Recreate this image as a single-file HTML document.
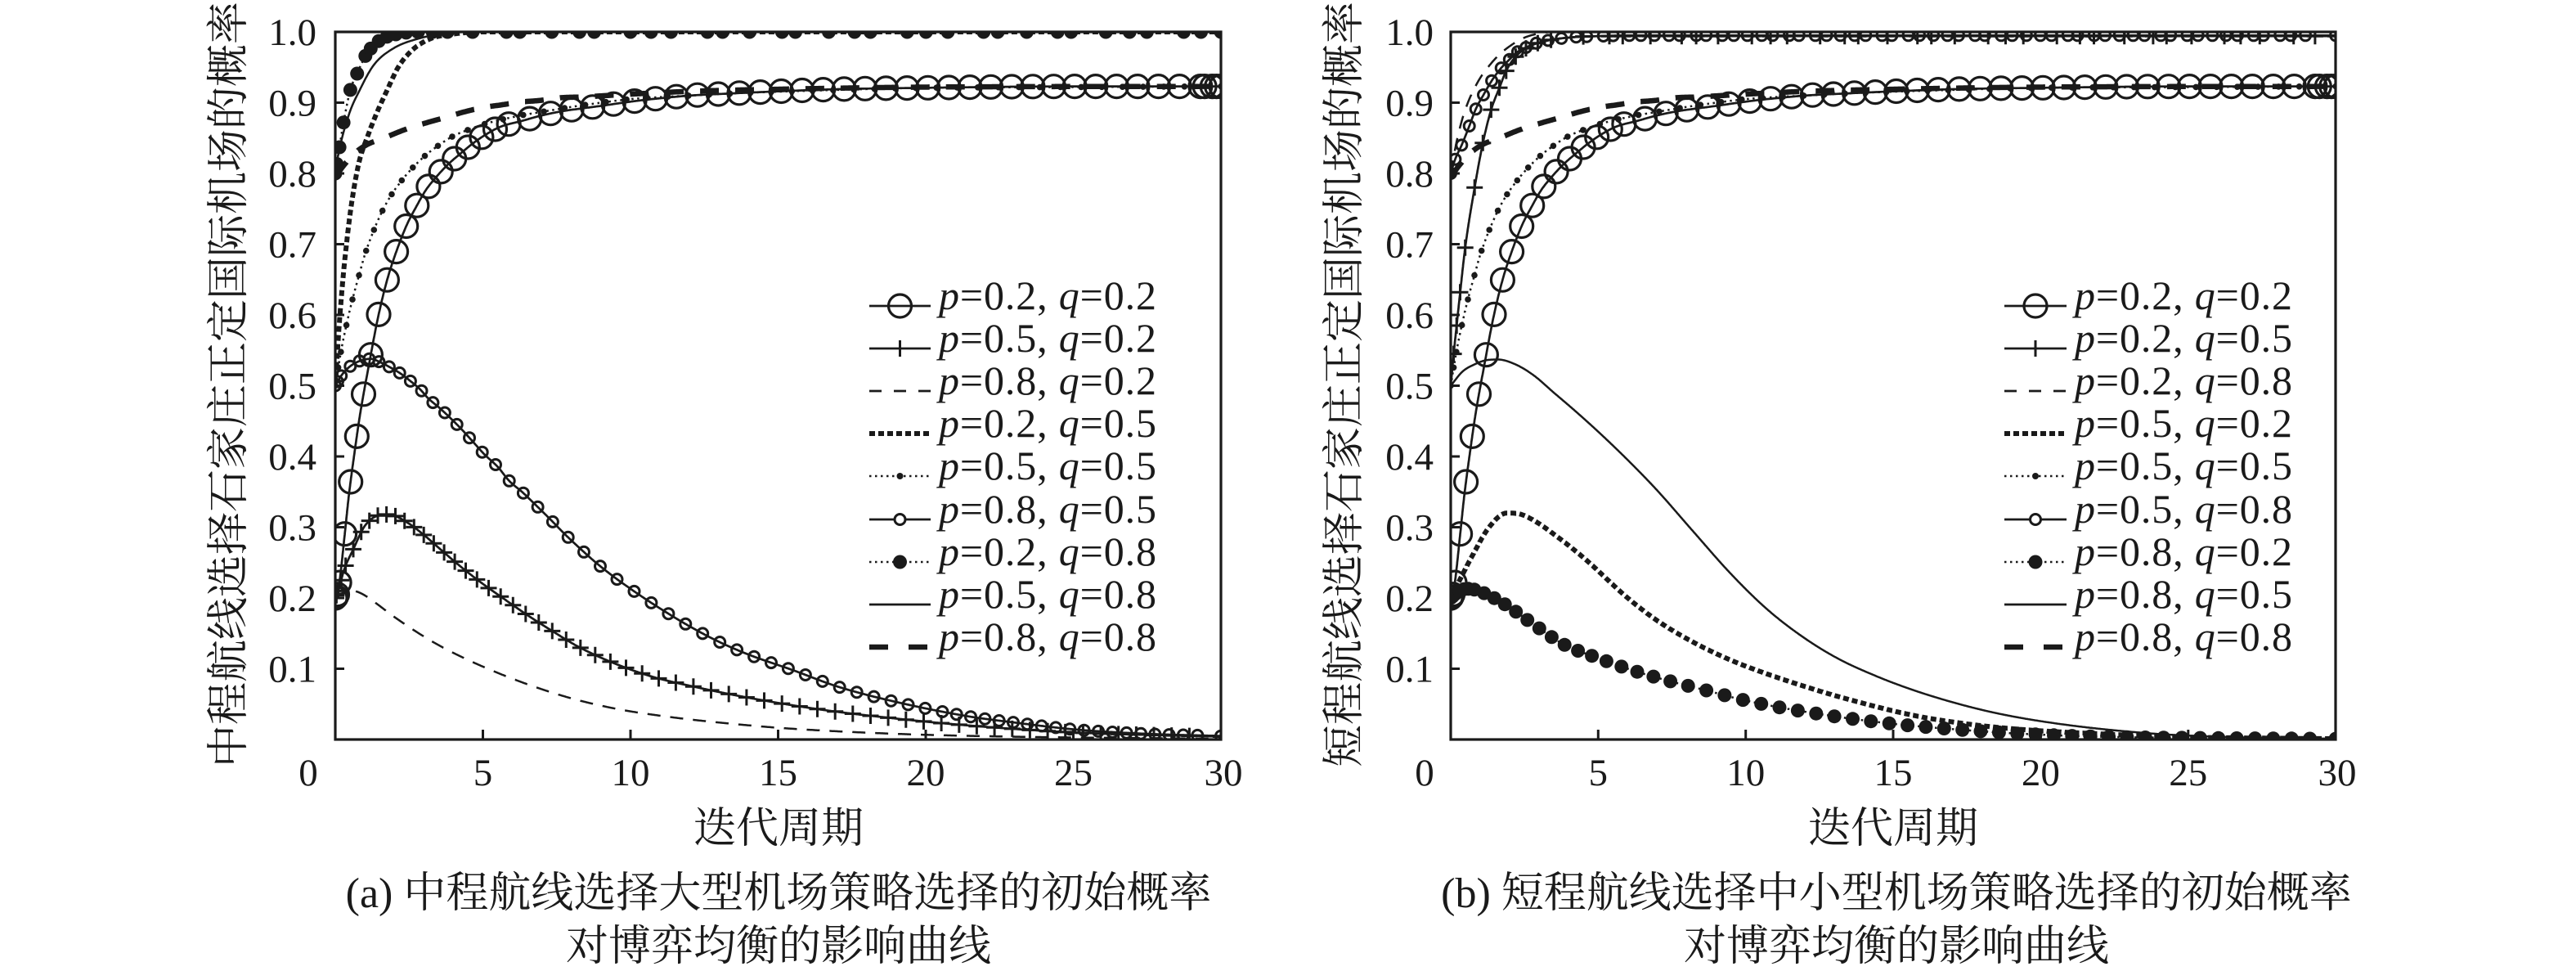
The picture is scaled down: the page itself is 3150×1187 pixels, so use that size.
<!DOCTYPE html>
<html><head><meta charset="utf-8">
<style>
html,body{margin:0;padding:0;background:#fff;}
svg{display:block;}
text{font-family:"Liberation Serif","Noto Serif CJK SC",serif;fill:#1a1a1a;}
</style></head>
<body>
<svg id="c" xmlns="http://www.w3.org/2000/svg" width="3150" height="1187" viewBox="0 0 3150 1187" font-family="'Liberation Serif','Noto Serif CJK SC',serif">
<rect width="3150" height="1187" fill="#fff"/>
<defs>
<clipPath id="clipA"><rect x="410" y="39" width="1083" height="865"/></clipPath>
<clipPath id="clipB"><rect x="1774" y="39" width="1082" height="865"/></clipPath>
</defs>
<g id="gA" clip-path="url(#clipA)"></g>
<g id="gB" clip-path="url(#clipB)"></g>

<!-- Axes -->
<g stroke="#1a1a1a" stroke-width="3" fill="none">
<rect x="410" y="39" width="1083" height="865" stroke-width="3.2"/>
<path d="M410 125.5h11M410 212h11M410 298.5h11M410 385h11M410 471.5h11M410 558h11M410 644.5h11M410 731h11M410 817.5h11"/>
<path d="M590.5 904v-12M771 904v-12M951.5 904v-12M1132 904v-12M1312.5 904v-12"/>
<rect x="1774" y="39" width="1082" height="865" stroke-width="3.2"/>
<path d="M1774 125.5h11M1774 212h11M1774 298.5h11M1774 385h11M1774 471.5h11M1774 558h11M1774 644.5h11M1774 731h11M1774 817.5h11"/>
<path d="M1954.3 904v-12M2134.7 904v-12M2315 904v-12M2495.4 904v-12M2675.8 904v-12"/>
</g>

<!-- Y tick labels -->
<g font-size="47" text-anchor="end">
<text x="387" y="55">1.0</text><text x="387" y="141.5">0.9</text><text x="387" y="228">0.8</text>
<text x="387" y="314.5">0.7</text><text x="387" y="401">0.6</text><text x="387" y="487.5">0.5</text>
<text x="387" y="574">0.4</text><text x="387" y="660.5">0.3</text><text x="387" y="747">0.2</text>
<text x="387" y="833.5">0.1</text>
<text x="1753" y="55">1.0</text><text x="1753" y="141.5">0.9</text><text x="1753" y="228">0.8</text>
<text x="1753" y="314.5">0.7</text><text x="1753" y="401">0.6</text><text x="1753" y="487.5">0.5</text>
<text x="1753" y="574">0.4</text><text x="1753" y="660.5">0.3</text><text x="1753" y="747">0.2</text>
<text x="1753" y="833.5">0.1</text>
</g>
<!-- X tick labels -->
<g font-size="47" text-anchor="middle">
<text x="377" y="960">0</text><text x="590.5" y="960">5</text><text x="771" y="960">10</text>
<text x="951.5" y="960">15</text><text x="1132" y="960">20</text><text x="1312.5" y="960">25</text>
<text x="1496" y="960">30</text>
<text x="1742" y="960">0</text><text x="1954.3" y="960">5</text><text x="2134.7" y="960">10</text>
<text x="2315" y="960">15</text><text x="2495.4" y="960">20</text><text x="2675.8" y="960">25</text>
<text x="2858" y="960">30</text>
</g>

<!-- Axis titles -->
<text font-size="52" text-anchor="middle" transform="translate(297,470) rotate(-90)">中程航线选择石家庄正定国际机场的概率</text>
<text font-size="52" text-anchor="middle" transform="translate(1661,470) rotate(-90)">短程航线选择石家庄正定国际机场的概率</text>
<text x="952" y="1030" font-size="52" text-anchor="middle">迭代周期</text>
<text x="2315" y="1030" font-size="52" text-anchor="middle">迭代周期</text>

<!-- Captions -->
<text x="952" y="1109" font-size="52" text-anchor="middle">(a) 中程航线选择大型机场策略选择的初始概率</text>
<text x="952" y="1174" font-size="52" text-anchor="middle">对博弈均衡的影响曲线</text>
<text x="2319" y="1109" font-size="52" text-anchor="middle">(b) 短程航线选择中小型机场策略选择的初始概率</text>
<text x="2319" y="1174" font-size="52" text-anchor="middle">对博弈均衡的影响曲线</text>

<!-- Legend A -->
<g stroke="#1a1a1a" fill="none" stroke-width="2.7">
<line x1="1063" y1="374" x2="1138" y2="374"/><circle cx="1100.5" cy="374" r="14" stroke-width="3.2"/>
<line x1="1063" y1="426" x2="1138" y2="426"/><path d="M1100.5 416v20" stroke-width="3"/>
<line x1="1063" y1="478" x2="1138" y2="478" stroke-dasharray="15 15"/>
<line x1="1063" y1="530" x2="1138" y2="530" stroke-width="6" stroke-dasharray="7 4"/>
<line x1="1063" y1="582" x2="1138" y2="582" stroke-width="2.5" stroke-dasharray="2.5 4.5"/><circle cx="1100.5" cy="582" r="4" fill="#1a1a1a" stroke="none"/>
<line x1="1063" y1="635" x2="1138" y2="635"/><circle cx="1100.5" cy="635" r="6.5" stroke-width="3" fill="#fff"/>
<line x1="1063" y1="687" x2="1138" y2="687" stroke-width="2.5" stroke-dasharray="2.5 4.5"/><circle cx="1100.5" cy="687" r="8.5" fill="#1a1a1a" stroke="none"/>
<line x1="1063" y1="739" x2="1138" y2="739"/>
<line x1="1063" y1="791" x2="1138" y2="791" stroke-width="6.5" stroke-dasharray="23 25"/>
</g>
<g font-size="50">
<text x="1148" y="378" textLength="266" lengthAdjust="spacing"><tspan font-style="italic">p</tspan>=0.2, <tspan font-style="italic">q</tspan>=0.2</text>
<text x="1148" y="430" textLength="266" lengthAdjust="spacing"><tspan font-style="italic">p</tspan>=0.5, <tspan font-style="italic">q</tspan>=0.2</text>
<text x="1148" y="482" textLength="266" lengthAdjust="spacing"><tspan font-style="italic">p</tspan>=0.8, <tspan font-style="italic">q</tspan>=0.2</text>
<text x="1148" y="534" textLength="266" lengthAdjust="spacing"><tspan font-style="italic">p</tspan>=0.2, <tspan font-style="italic">q</tspan>=0.5</text>
<text x="1148" y="586" textLength="266" lengthAdjust="spacing"><tspan font-style="italic">p</tspan>=0.5, <tspan font-style="italic">q</tspan>=0.5</text>
<text x="1148" y="639" textLength="266" lengthAdjust="spacing"><tspan font-style="italic">p</tspan>=0.8, <tspan font-style="italic">q</tspan>=0.5</text>
<text x="1148" y="691" textLength="266" lengthAdjust="spacing"><tspan font-style="italic">p</tspan>=0.2, <tspan font-style="italic">q</tspan>=0.8</text>
<text x="1148" y="743" textLength="266" lengthAdjust="spacing"><tspan font-style="italic">p</tspan>=0.5, <tspan font-style="italic">q</tspan>=0.8</text>
<text x="1148" y="795" textLength="266" lengthAdjust="spacing"><tspan font-style="italic">p</tspan>=0.8, <tspan font-style="italic">q</tspan>=0.8</text>
</g>

<!-- Legend B -->
<g stroke="#1a1a1a" fill="none" stroke-width="2.7">
<line x1="2451" y1="374" x2="2527" y2="374"/><circle cx="2489" cy="374" r="14" stroke-width="3.2"/>
<line x1="2451" y1="426" x2="2527" y2="426"/><path d="M2489 416v20" stroke-width="3"/>
<line x1="2451" y1="478" x2="2527" y2="478" stroke-dasharray="15 15"/>
<line x1="2451" y1="530" x2="2527" y2="530" stroke-width="6" stroke-dasharray="7 4"/>
<line x1="2451" y1="582" x2="2527" y2="582" stroke-width="2.5" stroke-dasharray="2.5 4.5"/><circle cx="2489" cy="582" r="4" fill="#1a1a1a" stroke="none"/>
<line x1="2451" y1="635" x2="2527" y2="635"/><circle cx="2489" cy="635" r="6.5" stroke-width="3" fill="#fff"/>
<line x1="2451" y1="687" x2="2527" y2="687" stroke-width="2.5" stroke-dasharray="2.5 4.5"/><circle cx="2489" cy="687" r="8.5" fill="#1a1a1a" stroke="none"/>
<line x1="2451" y1="739" x2="2527" y2="739"/>
<line x1="2451" y1="791" x2="2527" y2="791" stroke-width="6.5" stroke-dasharray="23 25"/>
</g>
<g font-size="50">
<text x="2537" y="378" textLength="266" lengthAdjust="spacing"><tspan font-style="italic">p</tspan>=0.2, <tspan font-style="italic">q</tspan>=0.2</text>
<text x="2537" y="430" textLength="266" lengthAdjust="spacing"><tspan font-style="italic">p</tspan>=0.2, <tspan font-style="italic">q</tspan>=0.5</text>
<text x="2537" y="482" textLength="266" lengthAdjust="spacing"><tspan font-style="italic">p</tspan>=0.2, <tspan font-style="italic">q</tspan>=0.8</text>
<text x="2537" y="534" textLength="266" lengthAdjust="spacing"><tspan font-style="italic">p</tspan>=0.5, <tspan font-style="italic">q</tspan>=0.2</text>
<text x="2537" y="586" textLength="266" lengthAdjust="spacing"><tspan font-style="italic">p</tspan>=0.5, <tspan font-style="italic">q</tspan>=0.5</text>
<text x="2537" y="639" textLength="266" lengthAdjust="spacing"><tspan font-style="italic">p</tspan>=0.5, <tspan font-style="italic">q</tspan>=0.8</text>
<text x="2537" y="691" textLength="266" lengthAdjust="spacing"><tspan font-style="italic">p</tspan>=0.8, <tspan font-style="italic">q</tspan>=0.2</text>
<text x="2537" y="743" textLength="266" lengthAdjust="spacing"><tspan font-style="italic">p</tspan>=0.8, <tspan font-style="italic">q</tspan>=0.5</text>
<text x="2537" y="795" textLength="266" lengthAdjust="spacing"><tspan font-style="italic">p</tspan>=0.8, <tspan font-style="italic">q</tspan>=0.8</text>
</g>
</svg>
<script>
(function(){
const NS="http://www.w3.org/2000/svg";
const COL="#1a1a1a";
function el(tag,attrs,parent){const e=document.createElementNS(NS,tag);for(const k in attrs)e.setAttribute(k,attrs[k]);parent.appendChild(e);return e;}
function mono(pts){
 const n=pts.length, xs=pts.map(p=>p[0]), ys=pts.map(p=>p[1]);
 const d=[],m=new Array(n);
 for(let i=0;i<n-1;i++) d.push((ys[i+1]-ys[i])/(xs[i+1]-xs[i]));
 m[0]=d[0]; m[n-1]=d[n-2];
 for(let i=1;i<n-1;i++){ if(d[i-1]*d[i]<=0) m[i]=0; else m[i]=(d[i-1]+d[i])/2; }
 for(let i=0;i<n-1;i++){
  if(d[i]===0){m[i]=0;m[i+1]=0;continue;}
  const a=m[i]/d[i], b=m[i+1]/d[i], s=a*a+b*b;
  if(s>9){const t=3/Math.sqrt(s); m[i]=t*a*d[i]; m[i+1]=t*b*d[i];}
 }
 return function(x){
  if(x<=xs[0]) return ys[0]; if(x>=xs[n-1]) return ys[n-1];
  let i=0; while(x>xs[i+1]) i++;
  const h=xs[i+1]-xs[i], t=(x-xs[i])/h, t2=t*t, t3=t2*t;
  return (2*t3-3*t2+1)*ys[i]+(t3-2*t2+t)*h*m[i]+(-2*t3+3*t2)*ys[i+1]+(t3-t2)*h*m[i+1];
 };
}
function marker(g,t,cx,cy){
 if(t==="O") el("circle",{cx:cx,cy:cy,r:14,fill:"none",stroke:COL,"stroke-width":3.2},g);
 else if(t==="o") el("circle",{cx:cx,cy:cy,r:6.5,fill:"none",stroke:COL,"stroke-width":3},g);
 else if(t==="+") el("path",{d:"M"+(cx-10)+" "+cy+"h20M"+cx+" "+(cy-10)+"v20",stroke:COL,"stroke-width":3,fill:"none"},g);
 else if(t==="d") el("circle",{cx:cx,cy:cy,r:3.8,fill:COL},g);
 else if(t==="f") el("circle",{cx:cx,cy:cy,r:8.5,fill:COL},g);
}
function steps(init,h,end){
 const a=init.slice(); let x=a[a.length-1], k=0;
 while(true){ x+=Math.max(0.15,h(x,k++)); if(x>=29.4) break; a.push(x); }
 if(end) a.push.apply(a,end); else a.push(30);
 return a;
}
const XS=[]; for(let x=0;x<1;x+=0.005)XS.push(x); for(let x=1;x<=30.0001;x+=0.02)XS.push(x);
function draw(g,X0,S,pts,o){
 const f=mono(pts), sx=x=>X0+x*S, sy=y=>904-y*865;
 let d="";
 XS.forEach((x,i)=>{d+=(i?"L":"M")+sx(x).toFixed(1)+" "+sy(f(x)).toFixed(1);});
 const a={d:d,fill:"none",stroke:COL,"stroke-width":o.w,"stroke-linejoin":"round"};
 if(o.dash)a["stroke-dasharray"]=o.dash;
 el("path",a,g);
 if(o.mk) o.mx.forEach(x=>marker(g,o.mk,+sx(x).toFixed(1),+sy(f(x)).toFixed(1)));
}
const A=[[0,0.2],[0.07,0.205],[0.15,0.225],[0.32,0.29],[0.46,0.345],[0.65,0.405],[0.83,0.457],[1.16,0.534],[1.44,0.595],[1.76,0.65],[2.08,0.691],[2.43,0.728],[2.73,0.752],[3.06,0.776],[3.38,0.793],[3.8,0.812],[4.21,0.827],[4.68,0.843],[5.14,0.856],[5.6,0.866],[6.3,0.874],[7,0.882],[7.7,0.888],[8.38,0.892],[9.1,0.896],[9.75,0.9],[10.5,0.904],[11.2,0.907],[12,0.91],[13.4,0.913],[15,0.916],[17,0.919],[20,0.921],[25,0.923],[30,0.923]];
const B=[[0,0.2],[0.1,0.21],[0.3,0.24],[0.6,0.268],[1.02,0.303],[1.67,0.318],[1.94,0.317],[2.5,0.305],[3.06,0.287],[3.61,0.267],[4.17,0.247],[4.9,0.223],[5.74,0.198],[6.5,0.176],[7.4,0.152],[8.15,0.133],[8.98,0.116],[9.8,0.102],[10.8,0.088],[12,0.076],[14,0.059],[16.5,0.042],[18.9,0.03],[21.4,0.02],[25,0.01],[30,0.004]];
const D=[[0,0.2],[0.3,0.208],[0.6,0.21],[0.9,0.206],[1.3,0.195],[2.04,0.172],[3.43,0.135],[5.28,0.098],[7.6,0.063],[9.44,0.044],[11.3,0.032],[13,0.024],[15.2,0.016],[19,0.008],[23,0.004],[30,0.001]];
const G=[[0,0.5],[0.14,0.59],[0.28,0.66],[0.42,0.715],[0.56,0.76],[0.8,0.815],[1.1,0.853],[1.4,0.885],[1.76,0.918],[2.13,0.95],[2.6,0.974],[3.2,0.99],[4,0.997],[5,1],[30,1]];
const I=[[0,0.5],[0.2,0.55],[0.4,0.59],[0.6,0.625],[0.83,0.66],[1.0,0.685],[1.46,0.735],[1.83,0.765],[2.25,0.79],[2.62,0.808],[3.04,0.825],[3.41,0.837],[3.96,0.852],[4.52,0.862],[5.07,0.87],[5.63,0.876],[6.3,0.882],[7,0.887],[8,0.894],[9,0.9],[10,0.905],[12,0.91],[14,0.914],[17,0.918],[20,0.921],[25,0.922],[30,0.923]];
const C=[[0,0.5],[0.2,0.514],[0.46,0.526],[0.83,0.535],[1.2,0.538],[1.53,0.533],[1.9,0.525],[2.18,0.518],[2.5,0.508],[2.87,0.495],[3.15,0.482],[3.52,0.469],[3.98,0.451],[4.31,0.437],[4.68,0.42],[5.05,0.403],[5.51,0.385],[5.88,0.366],[6.35,0.349],[6.8,0.331],[7.31,0.31],[7.78,0.29],[8.29,0.27],[8.8,0.251],[9.4,0.231],[10,0.213],[10.6,0.196],[11.2,0.18],[12,0.16],[13,0.138],[14,0.12],[15.5,0.098],[17,0.075],[18.9,0.054],[21.4,0.033],[23,0.024],[25.1,0.014],[27.5,0.008],[30,0.005]];
const E=[[0,0.8],[0.14,0.837],[0.28,0.872],[0.51,0.918],[0.74,0.941],[1.02,0.966],[1.47,0.987],[2,0.996],[3,1],[30,1]];
const F=[[0,0.8],[0.08,0.822],[0.46,0.883],[0.83,0.918],[1.3,0.953],[1.94,0.976],[2.86,0.991],[4,0.999],[5,1],[30,1]];
const H=[[0,0.795],[0.3,0.812],[0.7,0.83],[1.09,0.841],[1.65,0.85],[2.36,0.862],[2.96,0.87],[3.72,0.879],[4.37,0.887],[5,0.893],[5.65,0.897],[6.3,0.901],[6.9,0.903],[7.65,0.907],[8.3,0.908],[10,0.912],[12,0.916],[15,0.919],[20,0.922],[30,0.923]];
const Pb=[[0,0.5],[0.1,0.545],[0.2,0.585],[0.32,0.632],[0.49,0.695],[0.81,0.78],[1.09,0.843],[1.37,0.89],[1.65,0.921],[1.88,0.945],[2.2,0.965],[2.6,0.978],[3.2,0.987],[4,0.992],[5,0.994],[30,0.994]];
const Qb=[[0,0.8],[0.2,0.845],[0.4,0.878],[0.6,0.902],[0.8,0.92],[1.0,0.935],[1.3,0.952],[1.6,0.966],[1.94,0.978],[2.4,0.99],[2.8,0.996],[3.5,1],[30,1]];
const Sb=[[0,0.8],[0.15,0.82],[0.37,0.84],[0.63,0.867],[0.85,0.891],[1.11,0.911],[1.39,0.931],[1.71,0.949],[1.99,0.961],[2.27,0.972],[2.55,0.978],[2.9,0.984],[3.3,0.988],[4,0.992],[5,0.994],[6,0.995],[30,0.995]];
const Bb=[[0,0.2],[0.3,0.225],[0.8,0.265],[1.3,0.3],[1.9,0.32],[2.3,0.319],[2.8,0.31],[3.5,0.29],[4.5,0.257],[6,0.2],[7,0.168],[8.2,0.138],[9.5,0.112],[10.7,0.093],[12,0.075],[13.2,0.06],[15.7,0.034],[17.5,0.022],[19.4,0.014],[22,0.008],[24.3,0.004],[30,0.001]];
const Db=[[0,0.2],[0.3,0.21],[0.6,0.213],[1.06,0.208],[1.8,0.192],[2.8,0.163],[3.8,0.135],[5,0.115],[6,0.1],[7.2,0.085],[8.7,0.069],[10,0.055],[11.9,0.04],[14.4,0.025],[16.9,0.015],[19.4,0.008],[22,0.004],[26,0.002],[30,0.001]];
const Cb=[[0,0.5],[0.4,0.52],[0.8,0.53],[1.2,0.536],[1.6,0.537],[2.2,0.53],[2.8,0.515],[3.5,0.49],[4.2,0.465],[5,0.435],[6,0.395],[7,0.352],[8.2,0.295],[9.5,0.234],[10.7,0.185],[11.9,0.146],[13.1,0.115],[14.4,0.09],[15.6,0.071],[16.9,0.054],[18.2,0.04],[19.4,0.03],[21,0.02],[22.5,0.013],[24.3,0.007],[26.8,0.003],[30,0.001]];

const mA=steps([0,0.03,0.07,0.14],x=>x<5.8?Math.min(0.46,0.17+0.08*x):0.71,[29.45,29.7,29.85,30]);
const mB=steps([0,0.04,0.1,0.2,0.35],x=>Math.min(0.6,0.25+0.03*x));
const mI=steps([0,0.1,0.19],x=>Math.min(0.7,0.17+0.09*x));
const mC=steps([0,0.08,0.2],x=>x<20?Math.min(0.58,0.3+0.03*x):0.48);
const mE=steps([0,0.05,0.14,0.28,0.51,0.74,1.02,1.2,1.47,1.75,2.05,2.4,2.8,3.3,3.8],(x,k)=>0.85+0.4*Math.sin(k*2.3));
const mPb=steps([0,0.1,0.2,0.32,0.49,0.81,1.09,1.37,1.65,1.88,2.2,2.55,2.95,3.4],(x,k)=>0.8+0.35*Math.sin(k*1.9+1));
const mSb=steps([0,0.15,0.37,0.63,0.85,1.11,1.39,1.71,1.99,2.27,2.55,2.9,3.3],(x,k)=>0.45+0.12*Math.sin(k*2.7));
const mDb=steps([0,0.06,0.15,0.3,0.45,0.6,0.8],x=>Math.min(0.62,0.3+0.04*x));

const gA=document.getElementById("gA"), gB=document.getElementById("gB");
const SA=36.1, XA=410, SB=36.07, XB=1774;
// Plot A
draw(gA,XA,SA,A,{w:2.7,mk:"O",mx:mA});
draw(gA,XA,SA,B,{w:2.7,mk:"+",mx:mB});
draw(gA,XA,SA,D,{w:2.5,dash:"16 12"});
draw(gA,XA,SA,G,{w:6,dash:"7 4"});
draw(gA,XA,SA,I,{w:2.5,dash:"2.5 4.5",mk:"d",mx:mI});
draw(gA,XA,SA,C,{w:2.7,mk:"o",mx:mC});
draw(gA,XA,SA,E,{w:2.5,dash:"2.5 4.5",mk:"f",mx:mE});
draw(gA,XA,SA,F,{w:2.5});
draw(gA,XA,SA,H,{w:6.5,dash:"23 20"});
// Plot B
draw(gB,XB,SB,A,{w:2.7,mk:"O",mx:mA});
draw(gB,XB,SB,Pb,{w:2.7,mk:"+",mx:mPb});
draw(gB,XB,SB,Qb,{w:2.5,dash:"16 12"});
draw(gB,XB,SB,Bb,{w:6,dash:"7 4"});
draw(gB,XB,SB,I,{w:2.5,dash:"2.5 4.5",mk:"d",mx:mI});
draw(gB,XB,SB,Sb,{w:2.7,mk:"o",mx:mSb});
draw(gB,XB,SB,Db,{w:2.5,dash:"2.5 4.5",mk:"f",mx:mDb});
draw(gB,XB,SB,Cb,{w:2.5});
draw(gB,XB,SB,H,{w:6.5,dash:"23 20"});
})();
</script>
</body></html>
